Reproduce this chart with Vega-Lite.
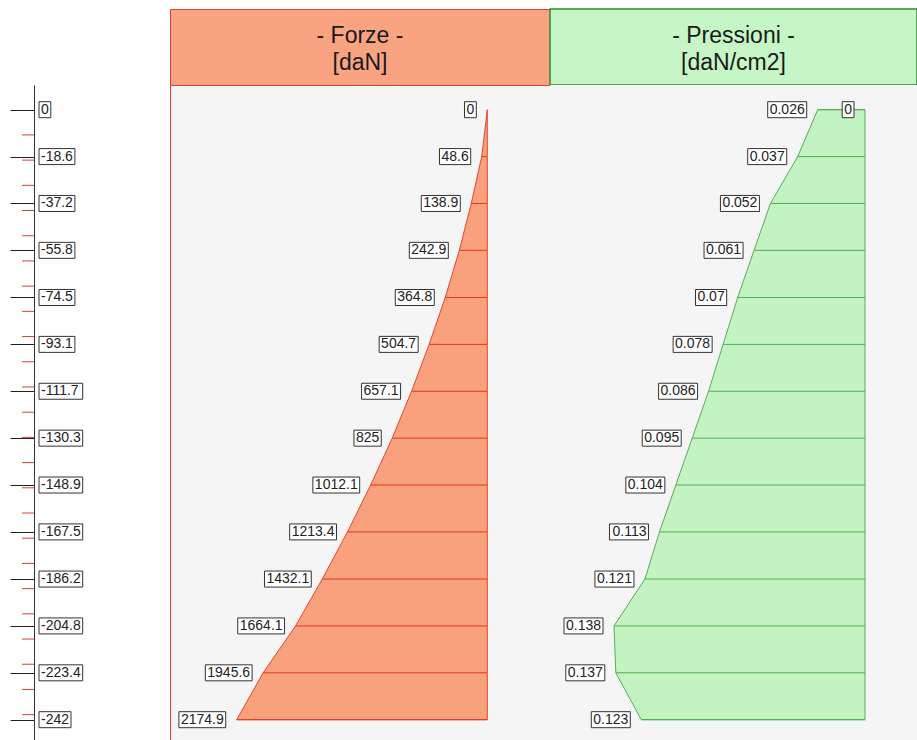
{
  "$schema": "https://vega.github.io/schema/vega-lite/v6.json",
  "background": "#ffffff",
  "padding": {"left": 0, "top": 8, "right": 0, "bottom": 0},
  "columns": 3,
  "spacing": 0,
  "align": "each",
  "bounds": "flush",
  "config": {
    "view": {"stroke": null},
    "font": "Liberation Sans",
    "axis": {"grid": false},
    "rect": {"fill": "#ffffff", "stroke": "#333333", "strokeWidth": 1},
    "text": {"fontSize": 14, "color": "#222222", "baseline": "middle"}
  },
  "datasets": {
    "forze": [
      {"profondita": 0, "forza": 0},
      {"profondita": -18.6, "forza": 48.6},
      {"profondita": -37.2, "forza": 138.9},
      {"profondita": -55.8, "forza": 242.9},
      {"profondita": -74.5, "forza": 364.8},
      {"profondita": -93.1, "forza": 504.7},
      {"profondita": -111.7, "forza": 657.1},
      {"profondita": -130.3, "forza": 825},
      {"profondita": -148.9, "forza": 1012.1},
      {"profondita": -167.5, "forza": 1213.4},
      {"profondita": -186.2, "forza": 1432.1},
      {"profondita": -204.8, "forza": 1664.1},
      {"profondita": -223.4, "forza": 1945.6},
      {"profondita": -242, "forza": 2174.9}
    ],
    "pressioni": [
      {"profondita": 0, "pressione": 0},
      {"profondita": 0, "pressione": 0.026},
      {"profondita": -18.6, "pressione": 0.037},
      {"profondita": -37.2, "pressione": 0.052},
      {"profondita": -55.8, "pressione": 0.061},
      {"profondita": -74.5, "pressione": 0.07},
      {"profondita": -93.1, "pressione": 0.078},
      {"profondita": -111.7, "pressione": 0.086},
      {"profondita": -130.3, "pressione": 0.095},
      {"profondita": -148.9, "pressione": 0.104},
      {"profondita": -167.5, "pressione": 0.113},
      {"profondita": -186.2, "pressione": 0.121},
      {"profondita": -204.8, "pressione": 0.138},
      {"profondita": -223.4, "pressione": 0.137},
      {"profondita": -242, "pressione": 0.123}
    ],
    "tacche": [
      {"profondita": -10}, {"profondita": -20}, {"profondita": -30}, {"profondita": -40},
      {"profondita": -50}, {"profondita": -60}, {"profondita": -70}, {"profondita": -80},
      {"profondita": -90}, {"profondita": -100}, {"profondita": -110}, {"profondita": -120},
      {"profondita": -130}, {"profondita": -140}, {"profondita": -150}, {"profondita": -160},
      {"profondita": -170}, {"profondita": -180}, {"profondita": -190}, {"profondita": -200},
      {"profondita": -210}, {"profondita": -220}, {"profondita": -230}, {"profondita": -240}
    ],
    "intestazioni": [
      {"pannello": "vuoto", "titolo": ""},
      {"pannello": "forze", "titolo": "- Forze -\n[daN]"},
      {"pannello": "pressioni", "titolo": "- Pressioni -\n[daN/cm2]"}
    ]
  },
  "concat": [
    {
      "width": 170,
      "height": 76,
      "data": {"name": "intestazioni"},
      "transform": [{"filter": "datum.pannello == 'vuoto'"}],
      "mark": {"type": "text"},
      "encoding": {"text": {"field": "titolo"}, "x": {"value": 85}, "y": {"value": 38}}
    },
    {
      "width": 380,
      "height": 76,
      "view": {"fill": "#f9a381", "stroke": "#e0402c", "strokeWidth": 1},
      "data": {"name": "intestazioni"},
      "transform": [{"filter": "datum.pannello == 'forze'"}],
      "mark": {
        "type": "text",
        "lineBreak": "\n",
        "fontSize": 23,
        "lineHeight": 27,
        "align": "center",
        "baseline": "middle",
        "color": "#1a1a1a"
      },
      "encoding": {"text": {"field": "titolo"}, "x": {"value": 190}, "y": {"value": 27}}
    },
    {
      "width": 367,
      "height": 76,
      "view": {"fill": "#c6f5c6", "stroke": "#2f8a2f", "strokeWidth": 1.5},
      "data": {"name": "intestazioni"},
      "transform": [{"filter": "datum.pannello == 'pressioni'"}],
      "mark": {
        "type": "text",
        "lineBreak": "\n",
        "fontSize": 23,
        "lineHeight": 27,
        "align": "center",
        "baseline": "middle",
        "color": "#1a1a1a"
      },
      "encoding": {"text": {"field": "titolo"}, "x": {"value": 183.5}, "y": {"value": 27}}
    },
    {
      "width": 170,
      "height": 656,
      "data": {"name": "forze"},
      "encoding": {
        "y": {
          "field": "profondita",
          "type": "quantitative",
          "scale": {"domain": [-250.45, 9.8], "nice": false, "zero": false},
          "axis": {
            "orient": "left",
            "offset": -34,
            "values": [0, -18.6, -37.2, -55.8, -74.5, -93.1, -111.7, -130.3, -148.9, -167.5, -186.2, -204.8, -223.4, -242],
            "labels": false,
            "title": null,
            "tickSize": 24,
            "tickWidth": 1,
            "tickColor": "#222222",
            "domainColor": "#333333",
            "domainWidth": 1
          }
        }
      },
      "layer": [
        {
          "data": {"name": "tacche"},
          "mark": {"type": "rule", "stroke": "#e03a3a", "strokeWidth": 1},
          "encoding": {"x": {"value": 22}, "x2": {"value": 34}}
        },
        {
          "transform": [{"filter": "length(toString(datum.profondita)) == 1"}],
          "mark": {"type": "rect", "yOffset": -8, "y2Offset": 8},
          "encoding": {"x": {"value": 39}, "x2": {"value": 50.8}, "y2": {"field": "profondita"}}
        },
        {
          "transform": [{"filter": "length(toString(datum.profondita)) == 4"}],
          "mark": {"type": "rect", "yOffset": -8, "y2Offset": 8},
          "encoding": {"x": {"value": 39}, "x2": {"value": 71}, "y2": {"field": "profondita"}}
        },
        {
          "transform": [{"filter": "length(toString(datum.profondita)) == 5"}],
          "mark": {"type": "rect", "yOffset": -8, "y2Offset": 8},
          "encoding": {"x": {"value": 39}, "x2": {"value": 74.9}, "y2": {"field": "profondita"}}
        },
        {
          "transform": [{"filter": "length(toString(datum.profondita)) == 6"}],
          "mark": {"type": "rect", "yOffset": -8, "y2Offset": 8},
          "encoding": {"x": {"value": 39}, "x2": {"value": 82.7}, "y2": {"field": "profondita"}}
        },
        {
          "mark": {"type": "text", "align": "left"},
          "encoding": {"x": {"value": 41}, "text": {"field": "profondita", "type": "nominal"}}
        }
      ]
    },
    {
      "width": 380,
      "height": 656,
      "view": {"fill": "#f5f5f5", "stroke": "#e0402c", "strokeWidth": 1},
      "data": {"name": "forze"},
      "encoding": {
        "y": {
          "field": "profondita",
          "type": "quantitative",
          "scale": {"domain": [-250.45, 9.8], "nice": false, "zero": false},
          "axis": null
        },
        "x": {
          "field": "forza",
          "type": "quantitative",
          "scale": {"domain": [-544.2, 2753.9], "reverse": true, "nice": false, "zero": false},
          "axis": null
        }
      },
      "layer": [
        {
          "mark": {"type": "area", "orient": "horizontal", "fill": "#f9a07d", "fillOpacity": 1, "stroke": "#e5452d", "strokeWidth": 1},
          "encoding": {"x2": {"datum": 0}}
        },
        {
          "mark": {"type": "rule", "stroke": "#e03a22", "strokeWidth": 1},
          "encoding": {"x2": {"datum": 0}}
        },
        {
          "transform": [{"filter": "length(toString(datum.forza)) == 1"}],
          "mark": {"type": "rect", "xOffset": -22.8, "x2Offset": -11, "yOffset": -8, "y2Offset": 8},
          "encoding": {"x2": {"field": "forza"}, "y2": {"field": "profondita"}}
        },
        {
          "transform": [{"filter": "length(toString(datum.forza)) == 3"}],
          "mark": {"type": "rect", "xOffset": -38.3, "x2Offset": -11, "yOffset": -8, "y2Offset": 8},
          "encoding": {"x2": {"field": "forza"}, "y2": {"field": "profondita"}}
        },
        {
          "transform": [{"filter": "length(toString(datum.forza)) == 4"}],
          "mark": {"type": "rect", "xOffset": -42.2, "x2Offset": -11, "yOffset": -8, "y2Offset": 8},
          "encoding": {"x2": {"field": "forza"}, "y2": {"field": "profondita"}}
        },
        {
          "transform": [{"filter": "length(toString(datum.forza)) == 5"}],
          "mark": {"type": "rect", "xOffset": -50, "x2Offset": -11, "yOffset": -8, "y2Offset": 8},
          "encoding": {"x2": {"field": "forza"}, "y2": {"field": "profondita"}}
        },
        {
          "transform": [{"filter": "length(toString(datum.forza)) == 6"}],
          "mark": {"type": "rect", "xOffset": -57.8, "x2Offset": -11, "yOffset": -8, "y2Offset": 8},
          "encoding": {"x2": {"field": "forza"}, "y2": {"field": "profondita"}}
        },
        {
          "mark": {"type": "text", "align": "right", "dx": -13},
          "encoding": {"text": {"field": "forza", "type": "nominal"}}
        }
      ]
    },
    {
      "width": 367,
      "height": 656,
      "view": {"fill": "#f5f5f5", "stroke": null},
      "data": {"name": "pressioni"},
      "encoding": {
        "y": {
          "field": "profondita",
          "type": "quantitative",
          "scale": {"domain": [-250.45, 9.8], "nice": false, "zero": false},
          "axis": null
        },
        "x": {
          "field": "pressione",
          "type": "quantitative",
          "scale": {"domain": [-0.02859, 0.17319], "reverse": true, "nice": false, "zero": false},
          "axis": null
        }
      },
      "layer": [
        {
          "transform": [{"filter": "datum.pressione > 0"}],
          "mark": {"type": "area", "orient": "horizontal", "fill": "#c3f3c3", "fillOpacity": 1, "stroke": "#55b055", "strokeWidth": 1},
          "encoding": {"x2": {"datum": 0}}
        },
        {
          "mark": {"type": "rule", "stroke": "#4caf50", "strokeWidth": 1},
          "encoding": {"x2": {"datum": 0}}
        },
        {
          "transform": [{"filter": "length(toString(datum.pressione)) == 1"}],
          "mark": {"type": "rect", "xOffset": -22.8, "x2Offset": -11, "yOffset": -8, "y2Offset": 8},
          "encoding": {"x2": {"field": "pressione"}, "y2": {"field": "profondita"}}
        },
        {
          "transform": [{"filter": "length(toString(datum.pressione)) == 4"}],
          "mark": {"type": "rect", "xOffset": -42.2, "x2Offset": -11, "yOffset": -8, "y2Offset": 8},
          "encoding": {"x2": {"field": "pressione"}, "y2": {"field": "profondita"}}
        },
        {
          "transform": [{"filter": "length(toString(datum.pressione)) == 5"}],
          "mark": {"type": "rect", "xOffset": -50, "x2Offset": -11, "yOffset": -8, "y2Offset": 8},
          "encoding": {"x2": {"field": "pressione"}, "y2": {"field": "profondita"}}
        },
        {
          "mark": {"type": "text", "align": "right", "dx": -13},
          "encoding": {"text": {"field": "pressione", "type": "nominal"}}
        }
      ]
    }
  ]
}
